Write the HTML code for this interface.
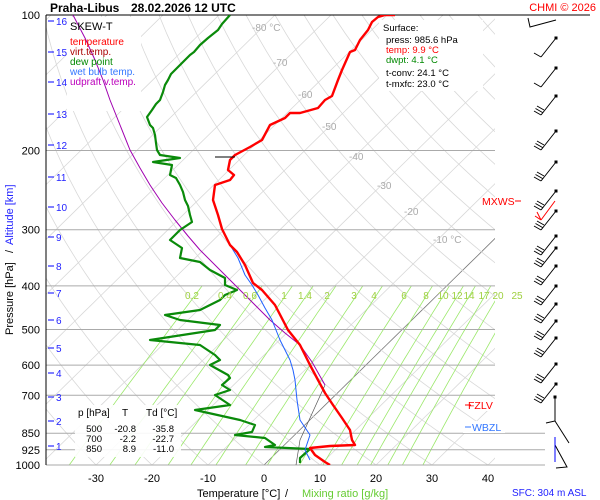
<!DOCTYPE html>
<html><head><meta charset="utf-8"><style>
html,body{margin:0;padding:0;background:#fff;}
svg{display:block;font-family:"Liberation Sans",sans-serif;}
</style></head><body>
<svg id="s" width="600" height="500" viewBox="0 0 600 500" xmlns="http://www.w3.org/2000/svg">
<defs><clipPath id="c"><rect x="46" y="15" width="449" height="450"/></clipPath>
<clipPath id="c2"><rect x="46" y="15" width="500" height="450"/></clipPath></defs>
<rect width="600" height="500" fill="#fff"/>
<g id="grid" clip-path="url(#c)"></g>
<g id="mix" clip-path="url(#c)"></g>
<g id="hl"></g>
<g id="data" clip-path="url(#c2)"></g>
<g id="wb"></g>
<g id="txt"></g>
</svg>
<script>
const NS="http://www.w3.org/2000/svg";
function el(par,tag,at,txt){const e=document.createElementNS(NS,tag);for(const k in at)e.setAttribute(k,at[k]);if(txt!==undefined)e.textContent=txt;document.getElementById(par).appendChild(e);return e;}
const Y=p=>15+450*(Math.log10(p)-2);
const K=1.02;
const X=(T,p)=>264+5.6*T+(465-Y(p))*K;
for(let T=-160;T<=50;T+=10){let pts=[];for(let p=1000;p>=100;p-=20)pts.push(X(T,p).toFixed(1)+","+Y(p).toFixed(1));
el("grid","polyline",{points:pts.join(" "),fill:"none",stroke:T==0?"#777":"#d8d8d8","stroke-width":0.8});}
for(let th=-40;th<=260;th+=10){let pts=[];for(let p=1000;p>=100;p-=10){const T=(th+273.15)*Math.pow(p/1000,0.286)-273.15;pts.push(X(T,p).toFixed(1)+","+Y(p).toFixed(1));}
el("grid","polyline",{points:pts.join(" "),fill:"none",stroke:"#d8d8d8","stroke-width":0.8});}
const W=[0.2,0.4,0.6,1,1.4,2,3,4,6,8,10,12,14,17,20,25];
const lx=[192,225,250,284,305,327,354,374,404,426,443,457,469,484,498,517];
W.forEach((w,i)=>{let pts=[];for(let p=1000;p>=400;p-=20){const e=w*p/(622+w);const l=Math.log(e/6.112);const T=243.5*l/(17.67-l);pts.push(X(T,p).toFixed(1)+","+Y(p).toFixed(1));}
el("mix","polyline",{points:pts.join(" "),fill:"none",stroke:"#9be86a","stroke-width":0.8});
el("txt","text",{x:lx[i],y:299,"font-size":10,fill:"#9fd040","text-anchor":"middle"},String(w));});
[[200,495],[300,495],[400,495],[500,495],[600,495],[700,495],[850,545],[925,545],[1000,545]].forEach(([p,x2])=>el("hl","line",{x1:46,x2:x2,y1:Y(p),y2:Y(p),stroke:"#aaa","stroke-width":1}));
el("hl","line",{x1:46,x2:590,y1:15,y2:15,stroke:"#000","stroke-width":1});
el("hl","line",{x1:46,x2:46,y1:15,y2:465,stroke:"#000","stroke-width":1});
el("hl","rect",{x:67,y:17,width:74,height:94,fill:"#fff"});
el("hl","rect",{x:379,y:20,width:104,height:71,fill:"#fff"});
el("hl","rect",{x:75,y:405,width:106,height:52,fill:"#fff","fill-opacity":0.9});
el("hl","rect",{x:463,y:399,width:45,height:12,fill:"#fff"});
el("hl","rect",{x:463,y:421,width:42,height:12,fill:"#fff"});
const pl=(pts,col,w)=>el("data","polyline",{points:pts,fill:"none",stroke:col,"stroke-width":w,"stroke-linejoin":"round"});
pl("73,15 85,38 95,60 103,80 110,100 120,125 130,150 140,168 150,185 162,203 175,220 188,236 200,250 220,270 240,290 255,305 270,320 285,333 300,345 312,362 325,385","#a000b0",1);
pl("325,385 300,440 296,465","#555",0.7);
pl("230,15 222,24 218,30 208,38 200,45 194,52 190,55 182,63 175,70 171,74 168,80 165,85 163,92 160,100 156,104 152,110 147,117 150,125 153,128 155,135 156,143 157,150 160,155 180,158 153,162 172,165 170,175 176,178 180,185 183,192 185,200 188,206 190,215 192,222 180,230 170,240 182,248 180,258 200,262 210,270 225,278 225,285 237,290 225,295 220,300 200,310 165,315 180,320 220,325 215,330 150,340 200,345 215,355 220,360 210,365 228,375 230,378 222,385 230,390 215,395 230,405 195,410 240,420 255,425 252,432 235,435 265,438 275,445 265,447 310,449 300,458 300,463","#0a8a0a",2.2);
pl("230,245 238,258 245,275 252,285 258,295 265,308 272,320 280,340 285,350 290,360 293,370 295,380 297,400 300,420 310,435 305,450 310,460","#2060ff",1);
pl("395,15 385,15 378,17 372,22 368,30 360,40 355,50 350,52 342,70 338,80 332,96 325,100 318,108 300,113 290,113 285,118 270,125 262,140 250,147 235,155 230,160 228,170 234,175 230,180 215,185 213,200 218,215 222,229 230,245 237,252 245,265 253,283 262,290 275,305 288,330 300,345 310,365 318,380 325,393 333,405 342,418 350,430 352,440 355,445 330,446 310,448 315,455 325,462 330,465","#f00",2.4);
el("data","line",{x1:215,x2:235,y1:157,y2:157,stroke:"#000","stroke-width":1});
const by=[52,82,110,145,176,205,225,250,262,280,300,318,335,352,378,398];
by.forEach((y,i)=>{const x0=556,y0=y-14,x1=541,y1=y+5;
let d="M"+x0+","+y0+" L"+x1+","+y1;
const n=(i<2)?1:3;
for(let j=0;j<n;j++){const bx=x1+1.5*j,byy=y1-2.5*j;d+=" M"+bx+","+byy+" L"+(bx-7)+","+(byy-4);}
el("wb","path",{d:d,stroke:"#000","stroke-width":1,fill:"none"});
el("wb","rect",{x:x0-1.5,y:y0-1.5,width:3,height:3,fill:"#000"});});
el("wb","path",{d:"M556,20 L530,27 L528,18",stroke:"#000","stroke-width":1,fill:"none"});
el("wb","path",{d:"M555,201 L541,220 M541,220 L537,212 M541,220 L535,216",stroke:"#f00","stroke-width":1,fill:"none"});
el("wb","path",{d:"M555,397 L555,421 L546,423 M555,421 L569,443",stroke:"#000","stroke-width":1,fill:"none"});
el("wb","rect",{x:553.5,y:395.5,width:3,height:3,fill:"#000"});
el("wb","path",{d:"M555,437 L555,462 M555,445 L567,467 L556,468",stroke:"#000","stroke-width":1,fill:"none"});
el("wb","line",{x1:555,x2:555,y1:437,y2:462,stroke:"#00f","stroke-width":1});
const T=(x,y,s,t,o)=>el("txt","text",Object.assign({x:x,y:y,"font-size":s},o||{}),t);
T(50,12,12,"Praha-Libus",{"font-weight":"bold"});T(131,12,12,"28.02.2026 12 UTC",{"font-weight":"bold"});
T(596,11,11,"CHMI © 2026",{fill:"#f00","text-anchor":"end"});
[100,200,300,400,500,600,700,850,925,1000].forEach(p=>T(40,Y(p)+4,11,String(p),{"text-anchor":"end"}));
[[16,21],[15,52],[14,82],[13,114],[12,145],[11,177],[10,207],[9,237],[8,266],[7,293],[6,320],[5,348],[4,373],[3,397],[2,421],[1,446]].forEach(([k,y])=>{el("txt","line",{x1:48,x2:54,y1:y,y2:y,stroke:"#00f"});T(56,y+4,10,String(k),{fill:"#22f"});});
T(70,30,11,"SKEW-T");T(70,45,10,"temperature",{fill:"#f00"});T(70,55,10,"virt.temp.",{fill:"#a00"});
T(70,65,10,"dew point",{fill:"#080"});T(70,75,10,"wet bulb temp.",{fill:"#37f"});T(70,85,10,"udpraft v.temp.",{fill:"#b0b"});
T(383,31,9.5,"Surface:");T(386,43,9.5,"press: 985.6 hPa");T(386,53,9.5,"temp: 9.9 °C",{fill:"#f00"});T(386,63,9.5,"dwpt: 4.1 °C",{fill:"#080"});
T(386,76,9.5,"t-conv: 24.1 °C");T(386,87,9.5,"t-mxfc: 23.0 °C");
T(78,416,10,"p [hPa]");T(122,416,10,"T");T(146,416,10,"Td [°C]");
[[500,"-20.8","-35.8",432],[700,"-2.2","-22.7",442],[850,"8.9","-11.0",452]].forEach(([p,a,b,y])=>{T(102,y,9.5,String(p),{"text-anchor":"end"});T(136,y,9.5,a,{"text-anchor":"end"});T(174,y,9.5,b,{"text-anchor":"end"});});
[[-80,252,31],[-70,273,66],[-60,298,98],[-50,322,130],[-40,349,160],[-30,377,189],[-20,404,215]].forEach(([t,x,y])=>T(x,y,10,t+(t==-80?" °C":""),{fill:"#aaa"}));
T(433,243,10,"-10 °C",{fill:"#aaa"});
[[-30,96],[-20,152],[-10,208],[0,264],[10,320],[20,376],[30,432],[40,488]].forEach(([t,x])=>T(x,482,11,String(t),{"text-anchor":"middle"}));
T(197,497,11,"Temperature [°C]");T(285,497,11,"/");T(302,497,11,"Mixing ratio [g/kg]",{fill:"#6c3"});
T(512,496,10,"SFC: 304 m ASL",{fill:"#22f"});
T(468,409,10.5,"FZLV",{fill:"#f00"});el("txt","line",{x1:465,x2:471,y1:405,y2:405,stroke:"#f00"});
T(472,431,10.5,"WBZL",{fill:"#37f"});el("txt","line",{x1:465,x2:471,y1:427,y2:427,stroke:"#37f"});
T(482,205,10.5,"MXWS",{fill:"#f00"});el("txt","line",{x1:515,x2:521,y1:201,y2:201,stroke:"#f00"});
T(13,335,11,"Pressure [hPa]",{transform:"rotate(-90 13 335)"});
T(13,253,11,"/",{transform:"rotate(-90 13 253)"});
T(13,245,11,"Altitude [km]",{fill:"#22f",transform:"rotate(-90 13 245)"});
</script>
</body></html>
